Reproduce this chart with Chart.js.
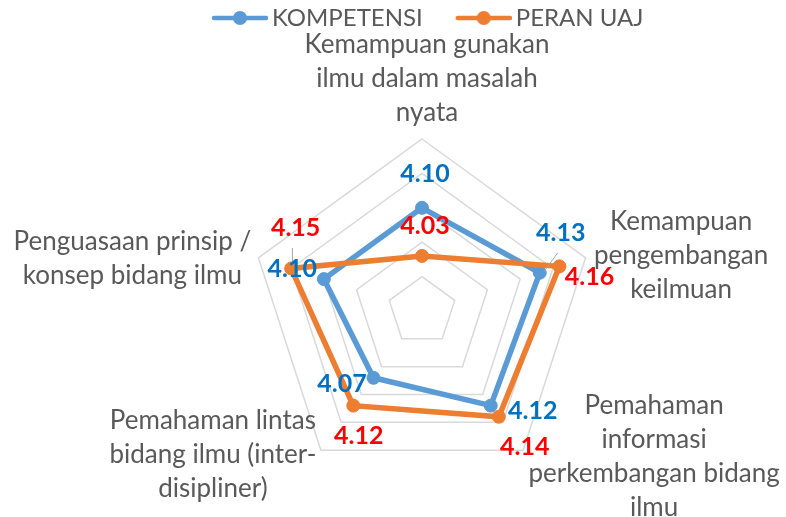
<!DOCTYPE html>
<html><head><meta charset="utf-8">
<script src="https://cdn.jsdelivr.net/npm/chart.js@4.4.1/dist/chart.umd.min.js"></script>
<style>html,body{margin:0;padding:0;background:#fff;} canvas{display:block;}</style>
</head><body>
<canvas id="c" width="786" height="517"></canvas>
<script>
// ---- data ----
const categories = [
  ['Kemampuan gunakan', 'ilmu dalam masalah', 'nyata'],
  ['Kemampuan', 'pengembangan', 'keilmuan'],
  ['Pemahaman', 'informasi', 'perkembangan bidang', 'ilmu'],
  ['Pemahaman lintas', 'bidang ilmu (inter-', 'disipliner)'],
  ['Penguasaan prinsip /', 'konsep bidang ilmu']
];
const seriesNames = ['KOMPETENSI', 'PERAN UAJ'];
const kompetensi = [4.10, 4.13, 4.12, 4.07, 4.10];
const peranUaj = [4.03, 4.16, 4.14, 4.12, 4.15];
const scaleMin = 3.95;
const scaleMax = 4.20;
const scaleStep = 0.05;

// ---- styles ----
const FONT = 'Lato';
const lineColors = ['#5B9BD5', '#ED7D31'];
const valueColors = ['#0070C0', '#FF0000'];
const textGray = '#595959';
// label offsets relative to points / axis ends
const valOffsets = [
  [[3,-33.5],[21,-40],[42,5],[-31.5,6],[-31.6,-10.6]],
  [[3,-30],[30,11],[26,30],[5.5,30],[4.5,-40.5]]
];
const catOffsets = [[5,-94],[95.5,-36.5],[131,-45],[-108,-30],[-126,-16.5]];
const leaderLines = [[1,4,1.3,-20.5,1.3,-7],[0,1,17.8,-19.8,4.5,-1.5]];

function legendMarker(color){
  const c = document.createElement('canvas');
  c.width = 91; c.height = 20;
  const g = c.getContext('2d');
  g.strokeStyle = color; g.lineWidth = 4.5; g.lineCap = 'round';
  g.beginPath(); g.moveTo(37,10); g.lineTo(89,10); g.stroke();
  g.fillStyle = color;
  g.beginPath(); g.arc(63,10,7,0,Math.PI*2); g.fill();
  return c;
}

const textPlugin = {
  id: 'textPlugin',
  afterDatasetsDraw(chart){
    const ctx = chart.ctx;
    const scale = chart.scales.r;
    ctx.save();
    ctx.strokeStyle = '#A6A6A6'; ctx.lineWidth = 1;
    leaderLines.forEach(([ds, idx, x1, y1, x2, y2]) => {
      const p = chart.getDatasetMeta(ds).data[idx];
      ctx.beginPath(); ctx.moveTo(p.x + x1, p.y + y1); ctx.lineTo(p.x + x2, p.y + y2); ctx.stroke();
    });
    ctx.textAlign = 'center'; ctx.textBaseline = 'middle';
    ctx.font = 'bold 25px ' + FONT;
    chart.data.datasets.forEach((ds, di) => {
      const meta = chart.getDatasetMeta(di);
      ctx.fillStyle = valueColors[di];
      meta.data.forEach((pt, j) => {
        const o = valOffsets[di][j];
        ctx.fillText(ds.data[j].toFixed(2), pt.x + o[0], pt.y + o[1]);
      });
    });
    ctx.font = '26px ' + FONT;
    ctx.fillStyle = textGray;
    chart.data.labels.forEach((lines, i) => {
      const v = scale.getPointPosition(i, scale.drawingArea);
      const o = catOffsets[i];
      lines.forEach((ln, k) => ctx.fillText(ln, v.x + o[0], v.y + o[1] + k * 34));
    });
    ctx.restore();
  }
};

function draw(){
  const markers = lineColors.map(legendMarker);
  new Chart(document.getElementById('c'), {
    type: 'radar',
    data: {
      labels: categories,
      datasets: [
        {label: seriesNames[0], data: kompetensi, borderColor: lineColors[0], backgroundColor: lineColors[0],
         pointBackgroundColor: lineColors[0], pointBorderColor: lineColors[0], borderWidth: 5.5, pointRadius: 6.5, pointBorderWidth: 1, fill: false, order: 2},
        {label: seriesNames[1], data: peranUaj, borderColor: lineColors[1], backgroundColor: lineColors[1],
         pointBackgroundColor: lineColors[1], pointBorderColor: lineColors[1], borderWidth: 5.5, pointRadius: 6.5, pointBorderWidth: 1, fill: false, order: 1}
      ]
    },
    options: {
      responsive: false,
      animation: false,
      devicePixelRatio: 1,
      layout: {padding: {left: 179, right: 121, top: 0, bottom: 34}},
      elements: {line: {tension: 0}},
      scales: {
        r: {
          min: scaleMin, max: scaleMax,
          ticks: {display: false, stepSize: scaleStep},
          grid: {color: '#D9D9D9', lineWidth: 1.5},
          angleLines: {display: false},
          pointLabels: {display: false}
        }
      },
      plugins: {
        tooltip: {enabled: false},
        title: {display: true, text: ' ', position: 'top', weight: 500, font: {size: 1, lineHeight: 1}, padding: {top: 0, bottom: 98}},
        legend: {
          display: true, position: 'top', align: 'start',
          labels: {
            usePointStyle: true, pointStyleWidth: 75, padding: 6, color: textGray,
            font: {family: FONT, size: 24},
            sort: (a, b) => a.datasetIndex - b.datasetIndex,
            generateLabels: (chart) => {
              const items = Chart.defaults.plugins.legend.labels.generateLabels(chart);
              items.forEach(it => { it.pointStyle = markers[it.datasetIndex]; });
              return items;
            }
          }
        }
      }
    },
    plugins: [textPlugin]
  });
}
if (document.fonts && document.fonts.load) {
  Promise.all([document.fonts.load('24px Lato'), document.fonts.load('bold 24px Lato'), document.fonts.load('26px Lato')]).then(draw, draw);
} else { draw(); }
</script>
</body></html>
